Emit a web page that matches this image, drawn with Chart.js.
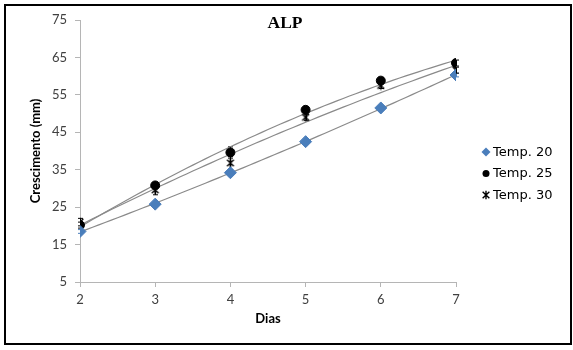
<!DOCTYPE html>
<html>
<head>
<meta charset="utf-8">
<script src="https://cdn.jsdelivr.net/npm/chart.js@4/dist/chart.umd.min.js"></script>
<style>
  html, body { margin: 0; padding: 0; background: #fff; }
  canvas { display: block; }
</style>
</head>
<body>
<canvas id="chart" width="573" height="350"></canvas>
<script>
// Growth (mm) per day for each temperature
const days = [2, 3, 4, 5, 6, 7];
const seriesNames = ['Temp. 20', 'Temp. 25', 'Temp. 30'];
const temp20 = [18.5, 25.8, 34.2, 42.5, 51.5, 60.3];
const temp25 = [20.2, 30.8, 39.6, 51.0, 58.8, 63.5];
const temp30 = [21.0, 29.6, 36.8, 49.0, 57.5, 61.6];
// standard errors shown as error bars
const err20 = [0.5, 0.5, 0.6, 0.5, 0.5, 0.5];
const err25 = [0.8, 0.8, 1.5, 0.8, 0.8, 0.8];
const err30 = [1.0, 1.3, 1.8, 0.8, 0.8, 0.8];
const yTicks = [5, 15, 25, 35, 45, 55, 65, 75];
const chartTitle = 'ALP';
const xTitle = 'Dias';
const yTitle = 'Crescimento (mm)';

// Second-order least-squares fit, used for the trendlines
function quadFit(xs, ys) {
  let s = [0, 0, 0, 0, 0], t = [0, 0, 0];
  xs.forEach((x, i) => {
    for (let k = 0; k < 5; k++) s[k] += Math.pow(x, k);
    for (let k = 0; k < 3; k++) t[k] += ys[i] * Math.pow(x, k);
  });
  const A = [[s[0], s[1], s[2], t[0]], [s[1], s[2], s[3], t[1]], [s[2], s[3], s[4], t[2]]];
  for (let i = 0; i < 3; i++) {
    for (let j = i + 1; j < 3; j++) {
      const f = A[j][i] / A[i][i];
      for (let k = i; k < 4; k++) A[j][k] -= f * A[i][k];
    }
  }
  const c = [0, 0, 0];
  for (let i = 2; i >= 0; i--) {
    let v = A[i][3];
    for (let k = i + 1; k < 3; k++) v -= A[i][k] * c[k];
    c[i] = v / A[i][i];
  }
  return x => c[0] + c[1] * x + c[2] * x * x;
}

function trendPoints(ys) {
  const f = quadFit(days, ys);
  const pts = [];
  const x0 = days[0], x1 = days[days.length - 1], n = 60;
  for (let i = 0; i <= n; i++) {
    const x = x0 + (x1 - x0) * i / n;
    pts.push({ x: x, y: f(x) });
  }
  return pts;
}

// Asterisk marker: an X with a vertical stroke
function asteriskMarker(size) {
  const c = document.createElement('canvas');
  c.width = size; c.height = size;
  const g = c.getContext('2d');
  g.strokeStyle = '#000';
  g.lineWidth = 1.4;
  const m = size / 2, r = size / 2 - 0.8;
  g.beginPath();
  g.moveTo(m, m - r); g.lineTo(m, m + r);
  g.moveTo(m - r * 0.8, m - r * 0.8); g.lineTo(m + r * 0.8, m + r * 0.8);
  g.moveTo(m + r * 0.8, m - r * 0.8); g.lineTo(m - r * 0.8, m + r * 0.8);
  g.stroke();
  return c;
}
const starImg = asteriskMarker(10);

const pts = ys => days.map((d, i) => ({ x: d, y: ys[i] }));

const series = [
  { label: seriesNames[0], values: temp20, err: err20, pointStyle: 'rectRot', pointRadius: 6, color: '#4A7EBB' },
  { label: seriesNames[1], values: temp25, err: err25, pointStyle: 'circle', pointRadius: 4.5, color: '#000000' },
  { label: seriesNames[2], values: temp30, err: err30, pointStyle: starImg, pointRadius: 5, color: '#000000' }
];

const datasets = [];
series.forEach(s => {
  datasets.push({
    label: s.label, data: pts(s.values), showLine: false,
    pointStyle: s.pointStyle, pointRadius: s.pointRadius,
    pointBackgroundColor: s.color, pointBorderColor: s.color, pointBorderWidth: 1,
    errors: s.err, errColor: s.color, order: 1
  });
});
series.forEach(s => {
  datasets.push({
    label: s.label + ' trend', data: trendPoints(s.values), showLine: true,
    borderColor: '#8a8a8a', borderWidth: 1.2, pointRadius: 0, tension: 0,
    isTrend: true, order: 2
  });
});

const framePlugin = {
  id: 'frame',
  beforeDraw(chart) {
    const ctx = chart.ctx;
    ctx.save();
    ctx.fillStyle = '#fff';
    ctx.fillRect(0, 0, chart.width, chart.height);
    ctx.restore();
  },
  afterDraw(chart) {
    const ctx = chart.ctx;
    ctx.save();
    ctx.strokeStyle = '#000';
    ctx.lineWidth = 2;
    ctx.strokeRect(5, 5, 566, 339);
    // chart title
    ctx.fillStyle = '#000';
    ctx.font = 'bold 17.5px "Liberation Serif", serif';
    ctx.textAlign = 'center';
    ctx.textBaseline = 'middle';
    ctx.fillText(chartTitle, 285, 23);
    ctx.restore();
  }
};

// error bars sit underneath the markers
const errorBarPlugin = {
  id: 'errorBars',
  beforeDatasetsDraw(chart) {
    const ctx = chart.ctx;
    const ys = chart.scales.y;
    ctx.save();
    ctx.lineWidth = 1;
    chart.data.datasets.forEach((ds, i) => {
      if (!ds.errors) return;
      ctx.strokeStyle = ds.errColor;
      const meta = chart.getDatasetMeta(i);
      meta.data.forEach((el, j) => {
        const v = ds.data[j].y, e = ds.errors[j];
        const x = Math.round(el.x) + 0.5;
        const yTop = ys.getPixelForValue(v + e), yBot = ys.getPixelForValue(v - e);
        ctx.beginPath();
        ctx.moveTo(x, yTop); ctx.lineTo(x, yBot);
        ctx.moveTo(x - 2.5, yTop); ctx.lineTo(x + 2.5, yTop);
        ctx.moveTo(x - 2.5, yBot); ctx.lineTo(x + 2.5, yBot);
        ctx.stroke();
      });
    });
    ctx.restore();
  }
};

const legendPlugin = {
  id: 'sideLegend',
  afterDraw(chart) {
    const ctx = chart.ctx;
    const x0 = chart.chartArea.right + 30;
    const yStart = 152, gap = 21.5;
    ctx.save();
    ctx.font = '13px "DejaVu Sans", sans-serif';
    ctx.fillStyle = '#000';
    ctx.textBaseline = 'middle';
    ctx.textAlign = 'left';
    chart.data.datasets.filter(ds => !ds.isTrend).forEach((ds, i) => {
      const y = yStart + i * gap;
      ctx.save();
      ctx.fillStyle = ds.pointBackgroundColor;
      ctx.strokeStyle = ds.pointBorderColor;
      ctx.lineWidth = 1;
      Chart.helpers.drawPoint(ctx, { pointStyle: ds.pointStyle, radius: ds.pointStyle === 'circle' ? 3.5 : 4.5, rotation: 0 }, x0, y);
      ctx.restore();
      ctx.fillText(ds.label, x0 + 7, y + 0.5);
    });
    ctx.restore();
  }
};

new Chart(document.getElementById('chart'), {
  type: 'scatter',
  data: { datasets: datasets },
  options: {
    responsive: false,
    animation: false,
    layout: { padding: { left: 0, right: 117, top: 20, bottom: 0 } },
    plugins: { legend: { display: false }, tooltip: { enabled: false }, title: { display: false } },
    scales: {
      x: {
        type: 'linear', min: 2, max: 7,
        afterFit: s => { s.height = 68; },
        ticks: { stepSize: 1, padding: 5, color: '#404040', font: { family: 'Lato, "Open Sans", sans-serif', size: 13 } },
        grid: { drawOnChartArea: false, drawTicks: true, tickLength: 5, color: '#b5b5b5' },
        border: { color: '#b5b5b5', width: 1 },
        title: { display: true, text: xTitle, color: '#000', padding: { top: 0, bottom: 23 },
                 font: { family: 'Lato, "Open Sans", sans-serif', size: 13, weight: 'bold' } }
      },
      y: {
        type: 'linear', min: 5, max: 75,
        afterFit: s => { s.width = 80; },
        afterBuildTicks: s => { s.ticks = yTicks.map(v => ({ value: v })); },
        ticks: { padding: 8, color: '#404040', font: { family: 'Lato, "Open Sans", sans-serif', size: 13 } },
        grid: { drawOnChartArea: false, drawTicks: true, tickLength: 5, color: '#b5b5b5' },
        border: { color: '#b5b5b5', width: 1 },
        title: { display: true, text: yTitle, color: '#000', padding: { top: 28, bottom: 0 },
                 font: { family: 'Lato, "Open Sans", sans-serif', size: 13, weight: 'bold' } }
      }
    }
  },
  plugins: [framePlugin, errorBarPlugin, legendPlugin]
});
</script>
</body>
</html>
